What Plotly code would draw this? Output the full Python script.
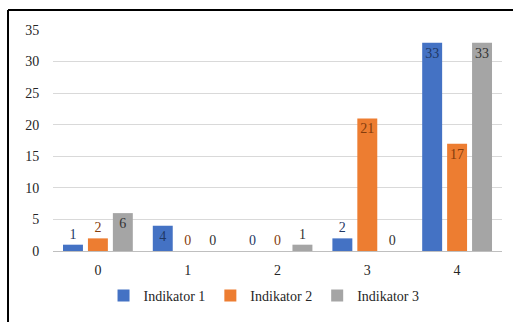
import plotly.graph_objects as go

categories = ["0", "1", "2", "3", "4"]
indikator1 = [1, 4, 0, 2, 33]
indikator2 = [2, 0, 0, 21, 17]
indikator3 = [6, 0, 1, 0, 33]
series_names = ["Indikator 1", "Indikator 2", "Indikator 3"]
y_ticks = [0, 5, 10, 15, 20, 25, 30, 35]

colors = ["#4472C4", "#ED7D31", "#A5A5A5"]
label_colors = ["#1F3864", "#843C0C", "#333333"]
FONT = "Liberation Serif, Times New Roman, DejaVu Serif, serif"

fig = go.Figure()
for name, vals, col, lcol in zip(series_names, [indikator1, indikator2, indikator3], colors, label_colors):
    fig.add_trace(go.Bar(
        x=categories, y=vals, name=name,
        marker=dict(color=col, line=dict(width=0)),
        text=[str(v) for v in vals],
        textposition=["inside" if v >= 4 else "outside" for v in vals],
        insidetextanchor="end",
        constraintext="none",
        textangle=0,
        cliponaxis=False,
        textfont=dict(family=FONT, size=14, color=lcol),
    ))

fig.update_layout(
    width=513, height=322,
    margin=dict(l=53, r=11, t=30, b=70),
    paper_bgcolor="white", plot_bgcolor="white",
    barmode="group", bargap=0.167, bargroupgap=0.2,
    font=dict(family=FONT, size=14, color="#262626"),
    showlegend=True,
    legend=dict(orientation="h", x=0.47, xanchor="center", y=-0.198, yanchor="middle",
                font=dict(family=FONT, size=14, color="#262626"),
                itemwidth=30, traceorder="normal"),
    xaxis=dict(type="category", showgrid=False, showline=False, zeroline=False,
               ticks="outside", ticklen=6, tickcolor="rgba(0,0,0,0)",
               tickfont=dict(family=FONT, size=14, color="#262626")),
    yaxis=dict(range=[0, 35], tickvals=y_ticks, showgrid=True, gridcolor="#D9D9D9", gridwidth=1,
               zeroline=True, zerolinecolor="#BFBFBF", zerolinewidth=1, showline=False,
               ticks="outside", ticklen=10, tickcolor="rgba(0,0,0,0)",
               tickfont=dict(family=FONT, size=14, color="#262626")),
    shapes=[
        dict(type="line", xref="paper", yref="paper", x0=-0.1002, x1=1.03, y0=1.09, y1=1.09,
             line=dict(color="black", width=2)),
        dict(type="line", xref="paper", yref="paper", x0=-0.1002, x1=-0.1002, y0=1.09, y1=-0.4,
             line=dict(color="black", width=2)),
    ],
)

fig.write_html("out.html")
